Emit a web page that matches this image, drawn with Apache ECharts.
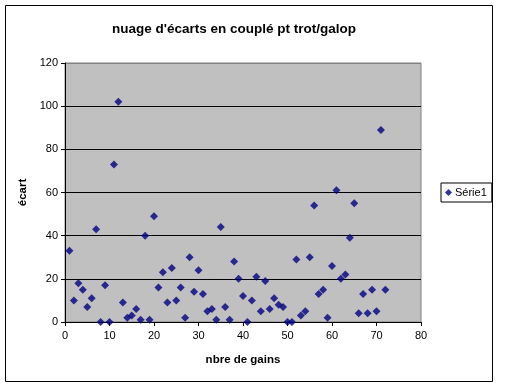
<!DOCTYPE html>
<html><head><meta charset="utf-8">
<script src="https://cdn.jsdelivr.net/npm/echarts@6/dist/echarts.min.js"></script>
<style>html,body{margin:0;padding:0;background:#fff}#c{width:512px;height:387px}</style>
</head><body><div id="c"></div>
<script>
const titleText = "nuage d'écarts en couplé pt trot/galop";
const xName = "nbre de gains";
const yName = "écart";
const seriesName = "Série1";
const gains = [1,2,3,4,5,6,7,8,9,10,11,12,13,14,15,16,17,18,19,20,21,22,23,24,25,26,27,28,29,30,31,32,33,34,35,36,37,38,39,40,41,42,43,44,45,46,47,48,49,50,51,52,53,54,55,56,57,58,59,60,61,62,63,64,65,66,67,68,69,70,71,72];
const ecarts = [33,10,18,15,7,11,43,0,17,0,73,102,9,2,3,6,1,40,1,49,16,23,9,25,10,16,2,30,14,24,13,5,6,1,44,7,1,28,20,12,0,10,21,5,19,6,11,8,7,0,0,29,3,5,30,54,13,15,2,26,61,20,22,39,55,4,13,4,15,5,89,15];

const chart = echarts.init(document.getElementById('c'), null, {renderer:'canvas'});
const font = 'Liberation Sans, Arial, sans-serif';
chart.setOption({
  animation:false,
  textStyle:{fontFamily:font},
  title:{text:titleText,left:229,top:17,textAlign:'center',
    textStyle:{fontFamily:font,fontSize:13.5,fontWeight:'bold',color:'#000'}},
  graphic:[{type:'rect',shape:{x:5.5,y:5.5,width:487,height:376},
    style:{fill:'none',stroke:'#000',lineWidth:1},silent:true,z:-1}],
  legend:{left:441,top:183,orient:'vertical',borderColor:'#000',borderWidth:1,
    padding:[4,5,4,4],itemWidth:7,itemHeight:7,itemGap:0,
    data:[{name:seriesName,icon:'diamond'}],
    textStyle:{fontFamily:font,fontSize:11,color:'#000',padding:[0,0,0,-2]}},
  grid:{left:65,top:63,width:356,height:259,show:true,backgroundColor:'#c0c0c0',
    borderColor:'#808080',borderWidth:1,containLabel:false},
  xAxis:{type:'value',min:0,max:80,interval:10,name:xName,nameLocation:'middle',nameGap:32,
    nameTextStyle:{fontFamily:font,fontSize:11.5,fontWeight:'bold',color:'#000'},
    axisLine:{show:true,onZero:false,lineStyle:{color:'#000',width:1}},
    axisTick:{show:true,length:4,lineStyle:{color:'#000'}},
    axisLabel:{fontFamily:font,fontSize:11,color:'#000',margin:8},
    splitLine:{show:false}},
  yAxis:{type:'value',min:0,max:120,interval:20,name:yName,nameLocation:'middle',nameGap:31,
    nameRotate:90,
    nameTextStyle:{fontFamily:font,fontSize:11.5,fontWeight:'bold',color:'#000'},
    axisLine:{show:true,lineStyle:{color:'#000',width:1}},
    axisTick:{show:true,length:4,lineStyle:{color:'#000'}},
    axisLabel:{fontFamily:font,fontSize:11,color:'#000',margin:7},
    splitLine:{show:true,lineStyle:{color:['#000','#000','#000','#000','#000','#000','#808080'],width:1}}},
  series:[{name:seriesName,type:'scatter',symbol:'diamond',symbolSize:8,
    itemStyle:{color:'#000080'},
    data:gains.map((g,i)=>[g,ecarts[i]])}]
});
</script></body></html>
